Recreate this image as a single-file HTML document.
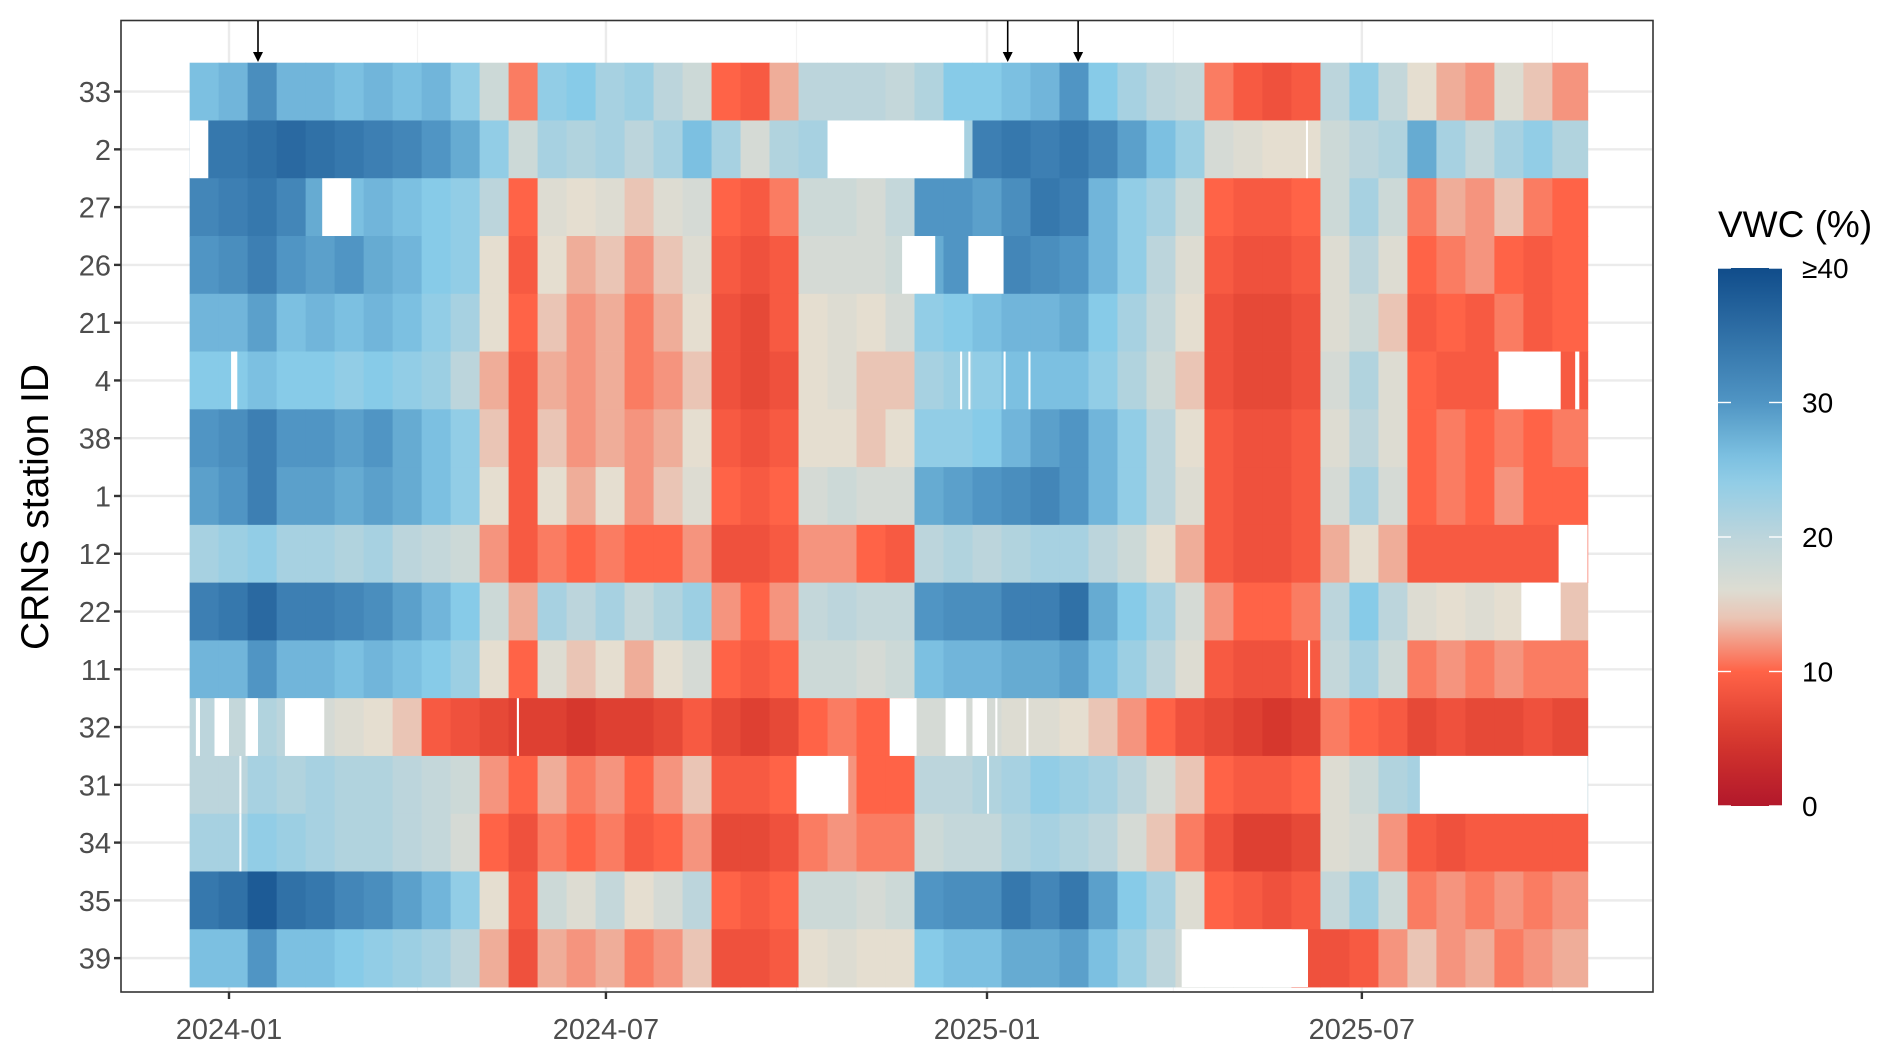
<!DOCTYPE html>
<html><head><meta charset="utf-8">
<style>
html,body{margin:0;padding:0;background:#fff;}
svg{display:block;font-family:"Liberation Sans",Arial,sans-serif;}
</style></head>
<body>
<svg id="chart" width="1892" height="1055" viewBox="0 0 1892 1055" xmlns="http://www.w3.org/2000/svg">
  <g id="grid"></g>
  <g id="tiles"></g>
  <g id="gapsG"></g>
  <rect x="121" y="20.5" width="1532" height="971.5" fill="none" stroke="#333" stroke-width="1.6"/>
  <g id="arrows"></g>
  <g id="yaxis"></g>
  <g id="xaxis"></g>
  <text transform="translate(48,507) rotate(-90)" text-anchor="middle" font-size="39" fill="#000">CRNS station ID</text>
  <g id="legend"></g>
</svg>
<script>
const stations = ["33","2","27","26","21","4","38","1","12","22","11","32","31","34","35","39"];
const binStartDate = "2023-12-13";
const binDays = 14;
const endDate = "2025-10-17";
const xTickLabels = ["2024-01","2024-07","2025-01","2025-07"];
const xTickDates = ["2024-01-01","2024-07-01","2025-01-01","2025-07-01"];
const xMinorDates = ["2024-04-01","2024-10-01","2025-04-01","2025-10-01"];
const arrowDates = ["2024-01-15","2025-01-11","2025-02-14"];
const legendTicks = [0,10,20,30,40];
const legendLabels = ["0","10","20","30","≥40"];

const v33 = [26,27,31,27,27,26,27,26,27,24,18,11,24,25,22,23,20,18,10,9,13,20,20,20,19,21,25,25,26,27,30,25,22,20,19,11,9,8,9,20,24,19,15,13,12,16,14,12];
const v2  = [34,34,35,36,35,34,33,32,30,28,24,18,22,21,22,20,22,26,22,17,21,22,22,22,22,22,22,33,34,33,34,32,29,26,23,17,16,15,15,18,20,21,28,22,19,22,24,21];
const v27 = [32,33,34,32,28,26,27,26,25,24,20,10,16,15,16,14,16,17,10,9,11,18,18,17,19,30,30,29,31,34,33,27,24,22,18,10,9,9,10,18,22,18,11,13,12,14,11,10];
const v26 = [30,31,33,30,29,30,28,27,25,24,15,9,15,13,14,12,14,16,9,8,9,17,17,17,18,28,30,30,32,31,30,27,24,20,16,9,8,8,9,16,20,16,10,11,12,10,9,10];
const v21 = [27,27,29,26,27,26,27,26,24,22,15,10,14,12,13,11,13,15,8,7,9,15,16,15,17,24,25,26,27,27,28,25,22,19,15,8,7,7,8,16,18,14,9,10,9,11,9,10];
const v4  = [25,25,26,25,25,24,25,24,23,20,13,9,13,12,13,11,12,14,8,7,8,15,16,14,14,22,23,24,26,26,26,24,21,18,14,8,7,7,8,17,21,16,10,9,9,9,9,9];
const v38 = [30,31,33,30,30,29,30,28,26,24,14,9,14,12,13,12,13,15,9,8,9,15,15,14,15,24,24,25,27,29,30,27,24,20,15,9,8,8,9,16,20,16,10,11,10,11,10,11];
const v1  = [29,30,33,29,29,28,29,28,26,24,15,9,15,13,15,12,14,16,10,9,10,17,18,17,17,28,29,30,31,32,30,27,24,20,16,9,8,8,9,17,22,17,10,11,10,12,10,10];
const v12 = [22,23,24,22,22,21,22,20,19,18,12,9,11,10,11,10,10,12,8,8,9,12,12,10,9,20,21,20,21,22,22,20,18,15,13,9,8,8,9,13,15,13,9,9,9,9,9,9];
const v22 = [33,34,36,33,33,32,31,29,27,25,18,13,22,20,22,19,21,23,12,10,12,19,20,19,19,30,31,31,33,33,35,28,25,22,17,12,10,10,11,20,25,20,16,15,16,15,15,14];
const v11 = [27,27,30,27,27,26,27,26,25,23,15,10,16,14,15,13,15,17,10,9,10,18,18,17,18,26,27,27,28,28,29,26,23,20,16,9,8,8,9,19,22,18,11,12,11,12,11,11];
const v32 = [20,19,21,20,17,16,15,14,9,8,7,6,6,5,6,6,7,9,7,6,7,10,11,10,10,17,17,17,16,16,15,14,12,10,8,7,6,5,6,11,10,9,7,8,7,7,8,7];
const v31 = [20,20,22,21,22,21,21,20,19,18,12,10,13,11,12,10,12,14,9,9,10,12,12,10,10,20,20,21,22,24,23,22,20,17,14,10,9,9,10,16,18,21,22,20,20,20,20,20];
const v34 = [22,22,24,23,22,21,21,20,19,17,10,8,11,10,11,9,10,12,7,7,8,11,12,11,11,18,19,19,21,22,21,20,17,14,11,8,6,6,7,16,17,12,9,8,9,9,9,9];
const v35 = [34,35,38,35,34,32,31,29,27,24,15,9,18,16,19,15,17,20,10,9,10,18,18,17,18,30,31,31,34,32,34,29,25,22,16,10,9,8,9,19,23,18,11,12,11,12,11,12];
const v39 = [26,26,30,26,26,25,24,23,22,20,13,8,13,12,13,11,12,14,8,8,9,15,16,15,15,25,26,26,28,28,29,26,23,20,17,17,17,17,8,8,9,12,14,12,13,11,12,13];
const seriesValues = [v33,v2,v27,v26,v21,v4,v38,v1,v12,v22,v11,v32,v31,v34,v35,v39];

// missing data: [stationIndex, firstDay, lastDay]
const gaps = [
 [1,"2023-12-13","2023-12-21"],[1,"2024-10-16","2024-12-20"],[1,"2025-06-04","2025-06-04"],
 [2,"2024-02-15","2024-02-28"],
 [3,"2024-11-21","2024-12-06"],[3,"2024-12-23","2025-01-08"],
 [5,"2024-01-02","2024-01-04"],[5,"2024-12-19","2024-12-19"],[5,"2024-12-23","2024-12-23"],[5,"2025-01-09","2025-01-09"],[5,"2025-01-21","2025-01-21"],[5,"2025-09-05","2025-10-04"],[5,"2025-10-12","2025-10-13"],
 [8,"2025-10-04","2025-10-17"],
 [9,"2025-09-16","2025-10-04"],
 [10,"2025-06-05","2025-06-05"],
 [11,"2023-12-16","2023-12-17"],[11,"2023-12-25","2023-12-31"],[11,"2024-01-09","2024-01-14"],[11,"2024-01-28","2024-02-15"],[11,"2024-05-19","2024-05-19"],[11,"2024-11-15","2024-11-27"],[11,"2024-12-12","2024-12-21"],[11,"2024-12-25","2024-12-31"],[11,"2025-01-05","2025-01-05"],[11,"2025-01-20","2025-01-20"],
 [12,"2024-01-06","2024-01-06"],[12,"2024-10-01","2024-10-25"],[12,"2025-01-01","2025-01-01"],[12,"2025-07-29","2025-10-17"],
 [13,"2024-01-06","2024-01-06"],
 [15,"2025-04-05","2025-06-04"]
];

const NS="http://www.w3.org/2000/svg";
const DAY=86400000;
function t(s){const p=s.split("-");return Date.UTC(+p[0],+p[1]-1,+p[2]);}
const x0=t("2024-01-01"), xPx0=229, pxPerDay=758/366;
function xScale(ms){return xPx0+(ms-x0)/DAY*pxPerDay;}
const rowTop=62.7, rowH=57.77;
function yTop(i){return rowTop+i*rowH;}
function yMid(i){return rowTop+(i+0.5)*rowH;}
const cStops=[[0,[178,24,43]],[5,[214,55,45]],[10,[255,99,71]],[15,[229,222,208]],[20,[188,213,220]],[25,[135,203,232]],[30,[80,149,196]],[40,[16,76,138]]];
function color(v){v=Math.max(0,Math.min(40,v));for(let k=1;k<cStops.length;k++){if(v<=cStops[k][0]){const a=cStops[k-1],b=cStops[k],f=(v-a[0])/(b[0]-a[0]);return "rgb("+a[1].map((c,j)=>Math.round(c+(b[1][j]-c)*f)).join(",")+")";}}return "rgb(16,76,138)";}
function mk(tag,attrs,parent){const e=document.createElementNS(NS,tag);for(const k in attrs)e.setAttribute(k,attrs[k]);parent.appendChild(e);return e;}

const grid=document.getElementById("grid");
xMinorDates.forEach(d=>{const x=xScale(t(d));if(x<1653){const l=mk("line",{x1:x,x2:x,y1:21,y2:991,stroke:"#f3f3f3","stroke-width":1.2},grid);

}});
xTickDates.forEach(d=>{const x=xScale(t(d));const l=mk("line",{x1:x,x2:x,y1:21,y2:991,stroke:"#ebebeb","stroke-width":2.4},grid);

});
stations.forEach((s,i)=>{const l=mk("line",{x1:122,x2:1652,y1:yMid(i),y2:yMid(i),stroke:"#ebebeb","stroke-width":2.4},grid);

});

const tiles=document.getElementById("tiles");
const start=t(binStartDate), end=t(endDate)+DAY;
seriesValues.forEach((vals,i)=>{
  vals.forEach((v,k)=>{
    const s=start+k*binDays*DAY; let e=s+binDays*DAY; if(k===vals.length-1)e=end;
    const x1=xScale(s), x2=xScale(e);
    const r=mk("rect",{x:x1.toFixed(2),y:yTop(i).toFixed(2),width:(x2-x1+0.6).toFixed(2),height:(rowH+0.4).toFixed(2),fill:color(v)},tiles);
    
    
  });
});
const gG=document.getElementById("gapsG");
gaps.forEach(g=>{const x1=xScale(t(g[1])),x2=xScale(t(g[2])+DAY);
const r=mk("rect",{x:x1,y:yTop(g[0]),width:x2-x1,height:rowH,fill:"#fff"},gG);

});

const ar=document.getElementById("arrows");
arrowDates.forEach(d=>{const x=xScale(t(d));
const g=mk("g",{},ar);


mk("line",{x1:x,x2:x,y1:21,y2:55,stroke:"#000","stroke-width":1.6},g);
mk("path",{d:`M${x-5},52 L${x+5},52 L${x},62 Z`,fill:"#000"},g);});

const ya=document.getElementById("yaxis");
stations.forEach((s,i)=>{const y=yMid(i);
const l=mk("line",{x1:114,x2:121,y1:y,y2:y,stroke:"#333","stroke-width":2.4},ya);


const tx=mk("text",{x:111,y:y+10.5,"text-anchor":"end","font-size":29,fill:"#4d4d4d"},ya);tx.textContent=s;

});

const xa=document.getElementById("xaxis");
xTickDates.forEach((d,i)=>{const x=xScale(t(d));
const l=mk("line",{x1:x,x2:x,y1:992,y2:999,stroke:"#333","stroke-width":2.4},xa);


const tx=mk("text",{x:x,y:1039,"text-anchor":"middle","font-size":29,fill:"#4d4d4d"},xa);tx.textContent=xTickLabels[i];

});

const lg=document.getElementById("legend");
const lt=mk("text",{x:1718,y:237,"font-size":37,fill:"#000"},lg);lt.textContent="VWC (%)";


const defs=mk("defs",{},lg);
const gr=mk("linearGradient",{id:"vwcGrad",x1:0,y1:1,x2:0,y2:0},defs);
for(let v=0;v<=40;v+=2){mk("stop",{offset:(v/40),"stop-color":color(v)},gr);}
const barTop=268,barBot=806;
function lScale(v){return barBot-(v/40)*(barBot-barTop);}
const bar=mk("rect",{x:1718,y:barTop,width:64,height:barBot-barTop,fill:"url(#vwcGrad)"},lg);


legendTicks.forEach((v,i)=>{const y=lScale(v);
mk("line",{x1:1718,x2:1731,y1:y,y2:y,stroke:"#fff","stroke-width":1.4},lg);
mk("line",{x1:1769,x2:1782,y1:y,y2:y,stroke:"#fff","stroke-width":1.4},lg);
const tx=mk("text",{x:1802,y:y+10,"font-size":28,fill:"#000"},lg);tx.textContent=legendLabels[i];

});
</script>
</body></html>
